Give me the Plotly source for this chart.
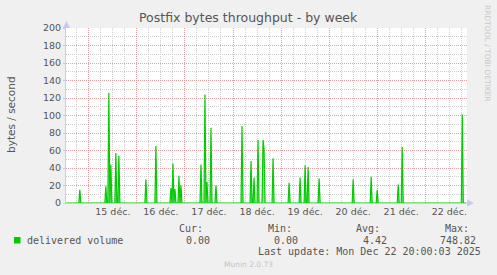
import plotly.graph_objects as go
import pandas as pd

# ---- data (30-min averages, bytes/second) ----
spike_times = [
    "2025-12-14 19:30", "2025-12-15 08:30", "2025-12-15 10:00", "2025-12-15 11:00",
    "2025-12-15 13:30", "2025-12-15 15:00", "2025-12-16 04:30", "2025-12-16 09:30",
    "2025-12-16 17:00", "2025-12-16 18:00", "2025-12-16 19:00", "2025-12-16 21:00",
    "2025-12-16 22:00", "2025-12-17 08:00", "2025-12-17 10:00", "2025-12-17 11:00",
    "2025-12-17 13:00", "2025-12-17 15:30", "2025-12-18 04:30", "2025-12-18 09:00",
    "2025-12-18 10:30", "2025-12-18 12:30", "2025-12-18 15:00", "2025-12-18 15:30",
    "2025-12-18 20:00", "2025-12-19 04:00", "2025-12-19 09:30", "2025-12-19 12:00",
    "2025-12-19 13:30", "2025-12-19 19:00", "2025-12-20 12:00", "2025-12-20 21:00",
    "2025-12-21 00:00", "2025-12-21 10:30", "2025-12-21 12:30", "2025-12-22 18:30",
]
spike_values = [
    15, 19, 126, 44,
    57, 54, 27, 65,
    17, 45, 16, 31,
    20, 44, 124, 24,
    86, 20, 88, 48,
    29, 72, 72, 62,
    51, 23, 29, 43,
    41, 28, 27, 30,
    15, 21, 64, 101,
]
data_start = "2025-12-14 12:30"
data_end = "2025-12-22 20:30"

legend_name = "delivered volume"
stat_labels = ["Cur:", "Min:", "Avg:", "Max:"]
stat_values = ["0.00", "0.00", "4.42", "748.82"]
title_text = "Postfix bytes throughput - by week"
ylabel_text = "bytes / second"
last_update = "Last update: Mon Dec 22 20:00:03 2025"
footer_text = "Munin 2.0.73"
side_text = "RRDTOOL / TOBI OETIKER"

# ---- build series (zero baseline between spikes) ----
times = pd.date_range(data_start, data_end, freq="30min")
series = pd.Series(0.0, index=times)
for t, v in zip(spike_times, spike_values):
    series[pd.Timestamp(t)] = v

W, H = 497, 275
L, R, T, B = 66, 30, 28, 72
PW, PH = W - L - R, H - T - B

def px(x):
    return (x - L) / PW

def py(y):
    return (T + PH - y) / PH

GREEN = "#00cc00"
MAJOR = "rgba(235,150,150,0.9)"
MINOR = "#cfcfcf"
AXIS = "#c8c8f0"
TXT = "#555555"
DASH = "1px,1px"

fig = go.Figure()
fig.add_trace(go.Scatter(
    x=series.index, y=series.values, mode="lines",
    line=dict(color=GREEN, width=1.2), fill="tozeroy",
    fillcolor="rgba(0,204,0,0.5)", hoverinfo="skip", showlegend=False,
))

x_start = pd.Timestamp("2025-12-14 12:36")
x_end = pd.Timestamp("2025-12-22 20:51")

fig.update_layout(
    width=W, height=H,
    margin=dict(l=L, r=R, t=T, b=B),
    paper_bgcolor="#f0f0f0", plot_bgcolor="#ffffff",
    showlegend=False,
    xaxis=dict(
        type="date", range=[x_start, x_end],
        tick0="2025-12-15", dtick=86400000, tickformat="%d déc.",
        ticklabelmode="period",
        showgrid=True, gridcolor=MAJOR, griddash=DASH, gridwidth=1,
        minor=dict(dtick=6 * 3600 * 1000, tick0="2025-12-15", showgrid=True,
                   gridcolor=MINOR, griddash=DASH, gridwidth=1),
        showline=True, linecolor=AXIS, linewidth=1, zeroline=False,
        ticks="", layer="below traces",
        tickfont=dict(family="DejaVu Sans", size=9.5, color=TXT),
        fixedrange=True,
    ),
    yaxis=dict(
        range=[0, 200], dtick=20, tick0=0,
        showgrid=True, gridcolor=MAJOR, griddash=DASH, gridwidth=1,
        minor=dict(dtick=10, showgrid=True, gridcolor=MINOR, griddash=DASH, gridwidth=1),
        showline=True, linecolor=AXIS, linewidth=1, zeroline=False,
        ticks="outside", ticklen=2, tickcolor=AXIS, layer="below traces",
        tickfont=dict(family="DejaVu Sans", size=9.5, color=TXT),
        fixedrange=True,
    ),
)

anns = []
def add(text, x, y, size, color=TXT, family="DejaVu Sans", xanchor="left", yanchor="middle", angle=0):
    anns.append(dict(text=text, x=px(x), y=py(y), xref="paper", yref="paper",
                     xanchor=xanchor, yanchor=yanchor, showarrow=False, textangle=angle,
                     font=dict(family=family, size=size, color=color), borderpad=0))

add(title_text, 248, 18, 12.5, xanchor="center")
add(ylabel_text, 11, 115, 10.5, xanchor="center", angle=-90)
add(side_text, 488, 53, 7.5, color="#c8c8c8", xanchor="center", angle=90)

MONO = "DejaVu Sans Mono"
add(legend_name, 26, 240, 10, family=MONO)
stat_right = [204, 293, 381, 470]
val_right = [211, 299, 388, 477]
for lab, val, xr, vr in zip(stat_labels, stat_values, stat_right, val_right):
    add(lab, xr, 228, 10, family=MONO, xanchor="right")
    add(val, vr, 240, 10, family=MONO, xanchor="right")
add(last_update, 482, 251, 10, family=MONO, xanchor="right")
add(footer_text, 248, 264, 7.5, color="#c4c4c4", xanchor="center")
fig.update_layout(annotations=anns)

shapes = [
    # legend colour box
    dict(type="rect", xref="paper", yref="paper",
         x0=px(14), x1=px(20.5), y0=py(243.5), y1=py(237),
         fillcolor=GREEN, line=dict(width=0)),
    # y-axis arrow (top)
    dict(type="path", xref="paper", yref="paper",
         xsizemode="pixel", ysizemode="pixel", xanchor=px(66.5), yanchor=py(28),
         path="M -3.5 0 L 3.5 0 L 0 7 Z", fillcolor=AXIS, line=dict(width=0)),
    # x-axis arrow (right)
    dict(type="path", xref="paper", yref="paper",
         xsizemode="pixel", ysizemode="pixel", xanchor=px(467), yanchor=py(203),
         path="M 0 -3.5 L 0 3.5 L 7 0 Z", fillcolor=AXIS, line=dict(width=0)),
]
fig.update_layout(shapes=shapes)

fig.write_html("out.html")
